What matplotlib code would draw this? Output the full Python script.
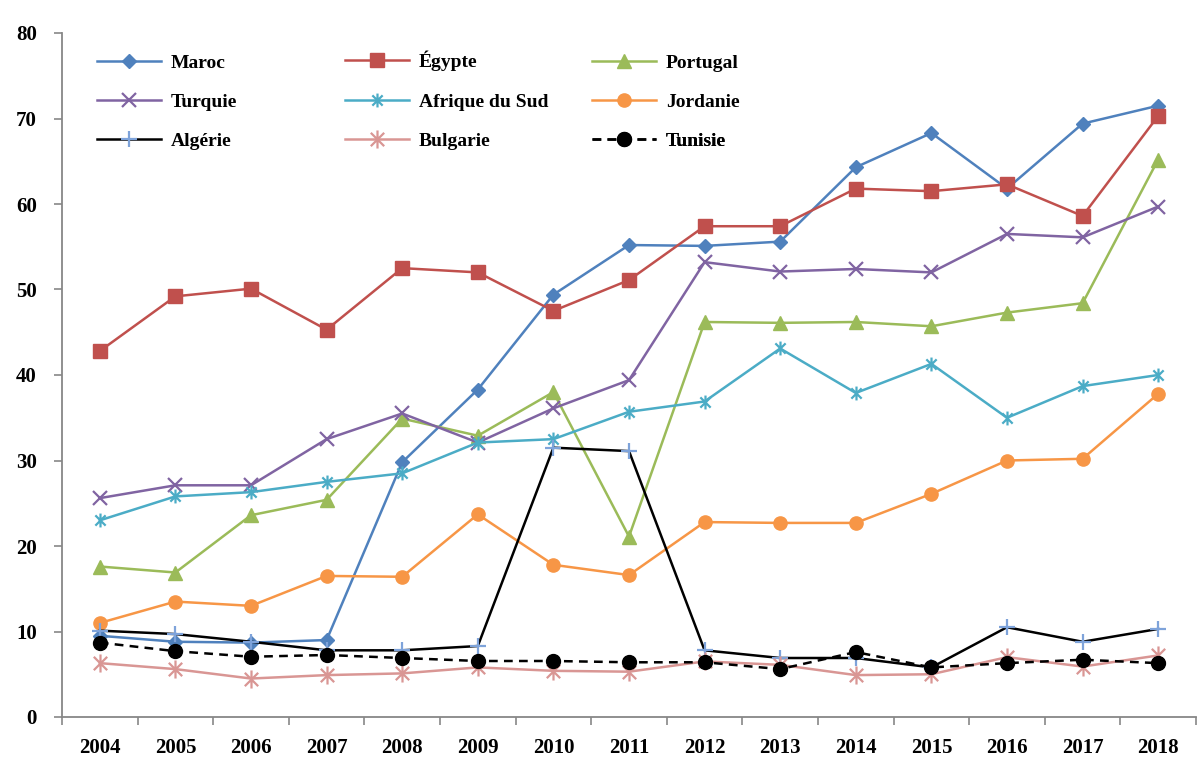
import numpy as np
import matplotlib.pyplot as plt
from matplotlib.path import Path
from matplotlib.font_manager import FontProperties

years = ['2004', '2005', '2006', '2007', '2008', '2009', '2010', '2011',
         '2012', '2013', '2014', '2015', '2016', '2017', '2018']

maroc = [9.5, 8.8, 8.7, 9.0, 29.8, 38.3, 49.4, 55.2, 55.1, 55.6, 64.3, 68.3, 61.8, 69.4, 71.5]
egypte = [42.8, 49.2, 50.1, 45.3, 52.5, 52.0, 47.5, 51.1, 57.4, 57.4, 61.8, 61.5, 62.3, 58.6, 70.3]
portugal = [17.6, 16.9, 23.6, 25.4, 34.9, 32.9, 38.0, 21.1, 46.2, 46.1, 46.2, 45.7, 47.3, 48.4, 65.2]
turquie = [25.6, 27.1, 27.1, 32.5, 35.5, 32.1, 36.1, 39.4, 53.2, 52.1, 52.4, 52.0, 56.5, 56.1, 59.7]
afrique_sud = [23.0, 25.8, 26.3, 27.5, 28.5, 32.1, 32.5, 35.7, 36.9, 43.1, 37.9, 41.3, 35.0, 38.7, 40.0]
jordanie = [11.0, 13.5, 13.0, 16.5, 16.4, 23.7, 17.8, 16.6, 22.8, 22.7, 22.7, 26.1, 30.0, 30.2, 37.8]
algerie = [10.1, 9.7, 8.8, 7.8, 7.8, 8.3, 31.5, 31.1, 7.8, 6.9, 6.9, 5.8, 10.5, 8.8, 10.3]
bulgarie = [6.3, 5.6, 4.5, 4.9, 5.1, 5.8, 5.4, 5.3, 6.5, 6.1, 4.9, 5.0, 7.0, 5.9, 7.2]
tunisie = [8.7, 7.7, 7.05, 7.25, 6.9, 6.55, 6.55, 6.4, 6.4, 5.6, 7.6, 5.8, 6.3, 6.7, 6.3]

# excel-style star: an x with a vertical bar through it
star = Path([(-1, -1), (1, 1), (-1, 1), (1, -1), (0, -1.35), (0, 1.35)],
            [Path.MOVETO, Path.LINETO, Path.MOVETO, Path.LINETO, Path.MOVETO, Path.LINETO])

plt.rcParams['font.family'] = ['Liberation Serif', 'DejaVu Serif']
plt.rcParams['font.weight'] = 'bold'

fig = plt.figure(figsize=(12, 7.69), dpi=100)
ax = fig.add_axes([62/1200, 52/769, 1134/1200, 684/769])
x = np.arange(len(years))

series = [
    ('Maroc', maroc, dict(color='#4F81BD', marker='D', ms=7.5)),
    ('Égypte', egypte, dict(color='#C0504D', marker='s', ms=9.5)),
    ('Portugal', portugal, dict(color='#9BBB59', marker='^', ms=10)),
    ('Turquie', turquie, dict(color='#8064A2', marker='x', ms=10, mew=1.6)),
    ('Afrique du Sud', afrique_sud, dict(color='#4BACC6', marker=star, ms=10, mew=1.6)),
    ('Jordanie', jordanie, dict(color='#F79646', marker='o', ms=9.5)),
    ('Algérie', algerie, dict(color='black', marker='+', ms=11, mew=1.6, mec='#7EA3DA')),
    ('Bulgarie', bulgarie, dict(color='#D99694', marker=star, ms=13, mew=1.6)),
    ('Tunisie', tunisie, dict(color='black', marker='o', ms=10, ls=(0, (3.5, 2.5)))),
]

handles = []
for name, vals, style in series:
    line, = ax.plot(x, vals, lw=1.8, label=name, **style)
    handles.append(line)

ax.set_xlim(-0.5, 14.5)
ax.set_ylim(0, 80)
ax.set_yticks(np.arange(0, 81, 10))
ax.set_xticks(x)
ax.set_xticklabels(years)
ax.set_xticks(np.arange(-0.5, 15, 1), minor=True)
ax.tick_params(axis='x', which='major', length=0, pad=15, labelsize=15)
ax.tick_params(axis='x', which='minor', length=6, width=1.2, color='#878787', direction='out')
ax.tick_params(axis='y', length=6, width=1.2, color='#878787', direction='out', pad=12, labelsize=15)

for side in ['top', 'right']:
    ax.spines[side].set_visible(False)
for side in ['left', 'bottom']:
    ax.spines[side].set_color('#878787')
    ax.spines[side].set_linewidth(1.3)

# legend laid out as a 3x3 grid, one entry per cell
font = FontProperties(family='Liberation Serif', weight='bold', size=14)
col_x = [97, 345, 592]
row_y = [63, 102, 141]
for i, h in enumerate(handles):
    xpos = col_x[i % 3]
    ypos = row_y[i // 3] - (2 if h.get_label() == 'Égypte' else 0)
    leg = ax.legend([h], [h.get_label()], loc='center left',
                    bbox_to_anchor=(xpos/1200, 1 - ypos/769), bbox_transform=fig.transFigure,
                    frameon=False, borderpad=0, borderaxespad=0, handlelength=3.3,
                    handletextpad=0.5, prop=font)
    ax.add_artist(leg)

fig.savefig('out.png', dpi=100)
